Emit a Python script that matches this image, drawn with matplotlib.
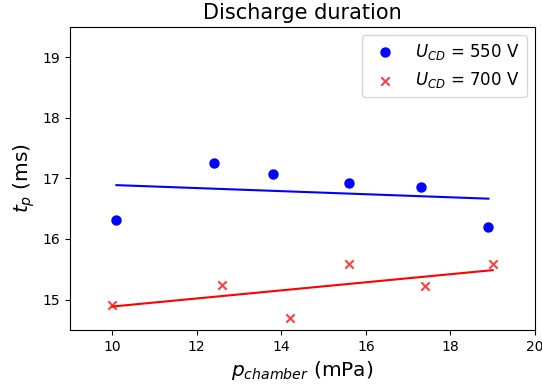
import numpy as np
import matplotlib
matplotlib.use("Agg")
import matplotlib.pyplot as plt

# --- DATOS ---
p_550 = [10.1, 12.4, 13.8, 15.6, 17.3, 18.9]
t_550 = [16.31, 17.26, 17.08, 16.93, 16.85, 16.20]

p_700 = [10.0, 12.6, 14.2, 15.6, 17.4, 19.0]
t_700 = [14.91, 15.24, 14.70, 15.58, 15.22, 15.58]

# --- AJUSTE LINEAL ---
fit_550 = np.polyfit(p_550, t_550, 1)
fit_700 = np.polyfit(p_700, t_700, 1)
xs_550 = np.array([min(p_550), max(p_550)])
xs_700 = np.array([min(p_700), max(p_700)])

# --- GRAFICA ---
fig = plt.figure(figsize=(5.42, 3.89), dpi=100)
ax = fig.add_axes([0.129, 0.152, 0.858, 0.779])

ax.scatter(p_550, t_550, color='blue', s=42, label=r'$U_{CD}$ = 550 V')
ax.scatter(p_700, t_700, color='red', marker='x', alpha=0.75, label=r'$U_{CD}$ = 700 V')
ax.plot(xs_550, np.polyval(fit_550, xs_550), color='blue')
ax.plot(xs_700, np.polyval(fit_700, xs_700), color='red')

ax.set_xlim(9, 20)
ax.set_ylim(14.5, 19.5)
ax.set_xticks([10, 12, 14, 16, 18, 20])
ax.set_yticks([15, 16, 17, 18, 19])
ax.set_title("Discharge duration", fontsize=15)
ax.set_xlabel(r'$p_{chamber}$ (mPa)', fontsize=14.5)
ax.set_ylabel(r'$t_p$ (ms)', fontsize=14.5)
ax.legend(loc='upper right', fontsize=12)

fig.savefig("out.png", dpi=100)
